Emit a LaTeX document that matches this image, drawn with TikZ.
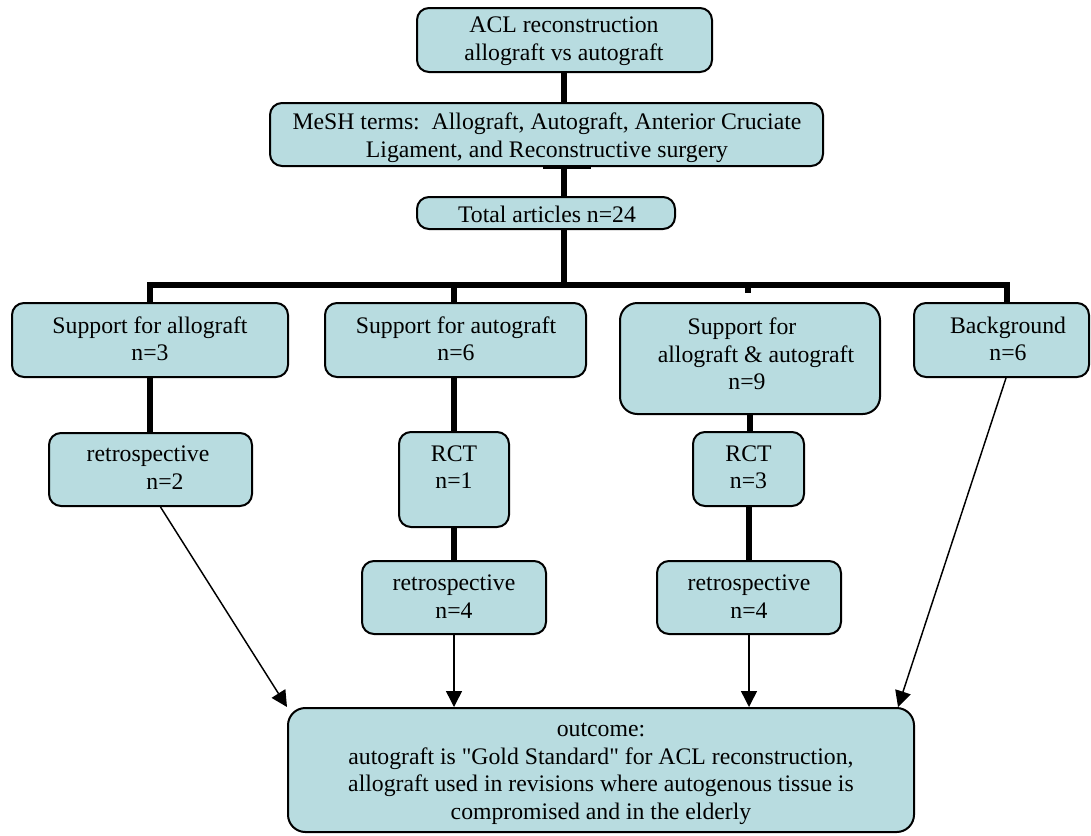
\documentclass[tikz,border=0pt]{standalone}
\usepackage{fontspec}
\setmainfont{Liberation Serif}
\usetikzlibrary{fit,arrows.meta,calc}
\definecolor{boxfill}{HTML}{B8DCE0}
\tikzset{
  box/.style={draw=black, line width=1.5pt, fill=boxfill, rounded corners=9pt, inner sep=0pt},
  bigbox/.style={box, rounded corners=13pt},
  lbl/.style={font=\fontsize{17.8}{20.6}\selectfont, align=center, inner sep=0pt, yshift=-1pt},
  thick link/.style={line width=4.2pt},
  arr/.style={line width=1.1pt, -{Triangle[length=12pt,width=12pt]}}
}
\begin{document}
\begin{tikzpicture}[x=0.75pt,y=-0.75pt]
\useasboundingbox (0,0) rectangle (1091,835);
% boxes
\node[box, fit={(417,8) (712,72)}] (acl) {};
\node[box, fit={(270,103) (823,166)}] (mesh) {};
\node[box, fit={(417,197) (675,229)}] (total) {};
\node[box, fit={(12,303) (288,377)}] (sa) {};
\node[box, fit={(325,303) (586,377)}] (sb) {};
\node[bigbox, fit={(620,303) (880,414)}] (sc) {};
\node[box, fit={(914,303) (1089,377)}] (bg) {};
\node[box, fit={(49,433) (252,506)}] (r2) {};
\node[box, fit={(399,432) (509,527)}] (rct1) {};
\node[box, fit={(693,432) (804,506)}] (rct3) {};
\node[box, fit={(362,561) (546,634)}] (r4a) {};
\node[box, fit={(657,561) (841,634)}] (r4b) {};
\node[bigbox, fit={(288,708) (914,832)}] (out) {};
% labels
\node[lbl] (tacl) at (564,40) {ACL reconstruction\\allograft vs autograft};
\node[lbl] (tmesh) at (547,136.5) {MeSH terms:\ \ Allograft, Autograft, Anterior Cruciate\\Ligament, and Reconstructive surgery};
\node[lbl] (ttot) at (547,213) {Total articles n=24};
\node[lbl] (tsa) at (150,337.5) {Support for allograft\\n=3};
\node[lbl] (tsb) at (456,337.5) {Support for autograft\\n=6};
\node[lbl] (tsc) at (756,352.5) {Support for\hspace*{21pt}\\allograft \& autograft\\n=9\hspace*{13.5pt}};
\node[lbl] (tbg) at (1008,337.5) {Background\\n=6};
\node[lbl] (tr2) at (150,466.5) {retrospective\hspace*{3pt}\\\hspace*{22.5pt}n=2};
\node[lbl] (trct1) at (454,466) {RCT\\n=1};
\node[lbl] (trct3) at (748.5,466) {RCT\\n=3};
\node[lbl] (tr4a) at (454,595.5) {retrospective\\n=4};
\node[lbl] (tr4b) at (749,595.5) {retrospective\\n=4};
\node[lbl] (tout) at (601,772.5) {outcome:\\autograft is \textquotedbl Gold Standard\textquotedbl{} for ACL reconstruction,\\allograft used in revisions where autogenous tissue is\\compromised and in the elderly};
% helper coordinates
\coordinate (jb) at (564,285);
\coordinate (bgtop) at (1007,303);
\coordinate (sbtop) at (454,303);
% thick tree links
\draw[thick link] (acl.south -| jb) -- (mesh.north -| jb);
\draw[thick link] (mesh.south -| jb) -- (total.north -| jb);
\draw[thick link] (total.south -| jb) -- (jb);
\draw[thick link, line join=miter] (sa.north) |- (jb) -| (bgtop);
\draw[thick link] (sbtop) -- (sbtop |- jb);
\draw[thick link] (jb -| 748,0) -- ++(0,8);
\draw[line width=2pt] (543,168) -- (591,168);
\draw[thick link] (sa.south) -- (sa.south |- r2.north);
\draw[thick link] (rct1.north |- sb.south) -- (rct1.north);
\draw[thick link] (rct1.south) -- (rct1.south |- r4a.north);
\draw[thick link] (sc.south) -- (sc.south |- rct3.north);
\draw[thick link] (rct3.south -| r4b.north) -- (r4b.north);
% arrows to outcome
\draw[arr] ($(r2.south)+(10,0)$) -- (out.north west);
\draw[arr] (r4a.south) -- (r4a.south |- out.north);
\draw[arr] (r4b.south) -- (r4b.south |- out.north);
\draw[arr] ($(bg.south)+(4.5,0)$) -- ($(out.north east)+(-17,0)$);
\end{tikzpicture}
\end{document}
